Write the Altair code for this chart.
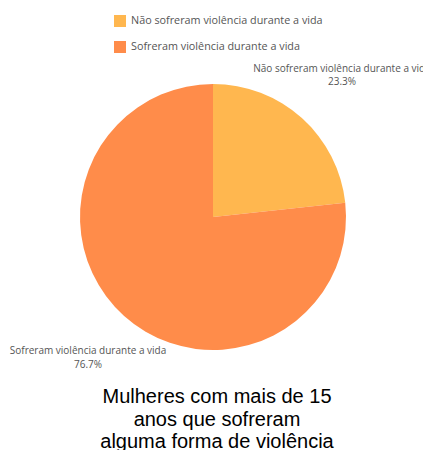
import altair as alt
import pandas as pd

categories = ["Não sofreram violência durante a vida", "Sofreram violência durante a vida"]
values = [23.3, 76.7]
colors = ["#FFB74F", "#FF8C4A"]
title_lines = ["Mulheres com mais de 15", "anos que sofreram", "alguma forma de violência"]

df = pd.DataFrame({"category": categories, "value": values, "order": [0, 1]})

W, H = 415, 442
cx, cy = 205, 209

color = alt.Color(
    "category:N",
    scale=alt.Scale(domain=categories, range=colors),
    sort=categories,
    legend=alt.Legend(
        title=None,
        orient="none",
        legendX=106,
        legendY=7,
        symbolType="square",
        symbolSize=144,
        symbolStrokeWidth=0,
        labelFont="Open Sans",
        labelFontSize=10.8,
        labelColor="#555555",
        labelOffset=5,
        rowPadding=14,
        padding=0,
        labelLimit=400,
    ),
)

pie = alt.Chart(df).mark_arc(outerRadius=133, stroke=None).encode(
    theta=alt.Theta("value:Q", stack=True),
    color=color,
    order=alt.Order("order:Q"),
    x=alt.value(cx),
    y=alt.value(cy),
)

labels = alt.Chart(df).transform_calculate(
    label="datum.category + '\\n' + format(datum.value, '.1f') + '%'"
).mark_text(
    radius=190,
    dy=-7,
    dx=2,
    font="Open Sans",
    fontSize=10,
    color="#555555",
    lineBreak="\n",
    lineHeight=13.5,
    align="center",
    baseline="middle",
).encode(
    theta=alt.Theta("value:Q", stack=True),
    order=alt.Order("order:Q"),
    text="label:N",
    x=alt.value(cx),
    y=alt.value(cy),
)

title = alt.Chart(pd.DataFrame({"t": ["\n".join(title_lines)]})).mark_text(
    font="Liberation Sans",
    fontSize=20,
    color="#000000",
    lineBreak="\n",
    lineHeight=22.5,
    align="center",
    baseline="top",
).encode(text="t:N", x=alt.value(209), y=alt.value(379))

chart = alt.layer(pie, labels, title).properties(
    width=W,
    height=H,
    padding=0,
    autosize=alt.AutoSizeParams(type="none"),
).configure_view(stroke=None)

chart.save("out.html", embed_options={"renderer": "svg", "actions": False})
